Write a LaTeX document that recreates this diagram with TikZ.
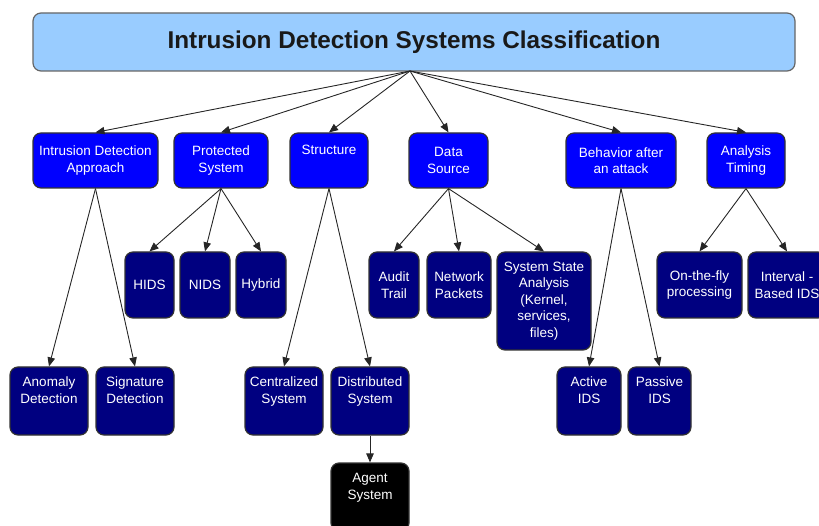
\documentclass[tikz,border=0pt]{standalone}
\usepackage{fontspec}
\setmainfont{Liberation Sans}
\usetikzlibrary{arrows.meta}
\definecolor{titlefill}{HTML}{99CCFF}
\definecolor{lvlone}{HTML}{0000FF}
\definecolor{lvltwo}{HTML}{000080}
\tikzset{
  basebox/.style={draw=black!80, line width=1.2pt, rounded corners=8pt, align=center,
    text=white, inner sep=0pt, font=\fontsize{13.5}{16.5}\selectfont},
  titlebox/.style={draw=black!60, line width=1.2pt, rounded corners=8pt, fill=titlefill,
    text=black!90, inner sep=0pt, minimum width=762pt, minimum height=58pt,
    font=\fontsize{24.3}{28}\selectfont\bfseries},
  lone/.style={basebox, fill=lvlone, minimum height=55pt},
  ltwo/.style={basebox, fill=lvltwo, minimum height=66pt},
  lthree/.style={basebox, fill=lvltwo, minimum height=68pt},
  agentbox/.style={basebox, fill=black, minimum height=68pt},
  arr/.style={-{Triangle[length=9pt,width=7.5pt]}, line width=0.9pt, draw=black!85}
}
\begin{document}
\begin{tikzpicture}[x=1pt,y=-1pt]
\useasboundingbox (0,0) rectangle (819,526);
\clip (0,0) rectangle (819,526);
% title
\node[titlebox] (title) at (414,42) {Intrusion Detection Systems Classification};
\coordinate (hub) at (410,71);
% level 1
\node[lone, minimum width=125pt] (ida) at (95.5,160.5) {Intrusion Detection\\Approach};
\node[lone, minimum width=94pt] (ps) at (221,160.5) {Protected\\System};
\node[lone, minimum width=78pt] (st) at (329,160.5) {Structure\\\strut};
\node[lone, minimum width=79pt] (ds) at (448.5,160.5) {Data\\Source};
\node[lone, minimum width=110pt] (ba) at (621,160.5) {Behavior after\\an attack};
\node[lone, minimum width=78pt] (at) at (746,160.5) {Analysis\\Timing};
% level 2
\node[ltwo, minimum width=49pt] (hids) at (149.5,285) {HIDS};
\node[ltwo, minimum width=50pt] (nids) at (205,285) {NIDS};
\node[ltwo, minimum width=50pt] (hyb) at (261,285) {Hybrid};
\node[ltwo, minimum width=50pt] (aud) at (394,285) {Audit\\Trail};
\node[ltwo, minimum width=64pt] (np) at (459,285) {Network\\Packets};
\node[ltwo, minimum width=94pt, minimum height=98pt] (ssa) at (544,301) {System State\\Analysis\\(Kernel,\\services,\\files)};
\node[ltwo, minimum width=85pt] (otf) at (699.5,285) {On-the-fly\\processing};
\node[ltwo, minimum width=78pt] (ivl) at (787,285) {Interval -\\Based IDS};
% level 3
\node[lthree, minimum width=78pt] (an) at (49,401) {Anomaly\\Detection\\\strut};
\node[lthree, minimum width=78pt] (sig) at (135,401) {Signature\\Detection\\\strut};
\node[lthree, minimum width=78pt] (cen) at (284,401) {Centralized\\System\\\strut};
\node[lthree, minimum width=78pt] (dis) at (370,401) {Distributed\\System\\\strut};
\node[lthree, minimum width=64pt] (act) at (589,401) {Active\\IDS\\\strut};
\node[lthree, minimum width=63pt] (pas) at (659.5,401) {Passive\\IDS\\\strut};
\node[agentbox, minimum width=78pt] (agent) at (370,497) {Agent\\System\\\strut};
% connectors
\foreach \c in {ida,ps,st,ds,ba,at} \draw[arr] (hub) -- (\c.north);
\foreach \c in {an,sig} \draw[arr] (ida.south) -- (\c.north);
\foreach \c in {hids,nids,hyb} \draw[arr] (ps.south) -- (\c.north);
\foreach \c in {cen,dis} \draw[arr] (st.south) -- (\c.north);
\foreach \c in {aud,np,ssa} \draw[arr] (ds.south) -- (\c.north);
\foreach \c in {act,pas} \draw[arr] (ba.south) -- (\c.north);
\foreach \c in {otf,ivl} \draw[arr] (at.south) -- (\c.north);
\draw[arr] (dis.south) -- (agent.north);
\end{tikzpicture}
\end{document}
